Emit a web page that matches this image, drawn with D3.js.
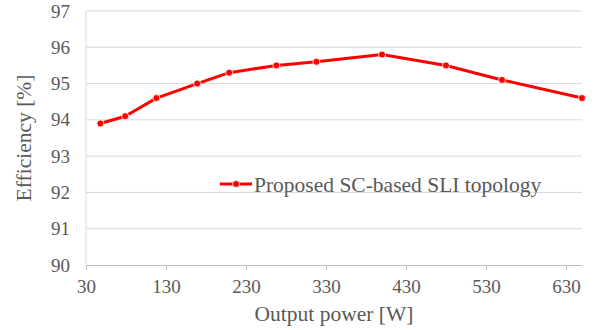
<!DOCTYPE html>
<html>
<head>
<meta charset="utf-8">
<script src="https://cdn.jsdelivr.net/npm/d3@7"></script>
<style>
  body { margin: 0; background: #fff; }
  svg { display: block; }
</style>
</head>
<body>
<div id="chart"></div>
<script>
// values
const power = [48, 79, 118, 169, 209, 268, 318, 400, 480, 550, 650]
const efficiency = [93.9, 94.1, 94.6, 95.0, 95.3, 95.5, 95.6, 95.8, 95.5, 95.1, 94.6]
const xTicks = [30, 130, 230, 330, 430, 530, 630]
const yTicks = [90, 91, 92, 93, 94, 95, 96, 97]
const seriesName = "Proposed SC-based SLI topology"

const width = 595, height = 330
const margin = {top: 11, right: 13, bottom: 65, left: 86}
const font = "Liberation Serif, Times New Roman, serif"

const svg = d3.select("#chart").append("svg")
  .attr("width", width)
  .attr("height", height)
  .attr("font-family", font)

const x = d3.scaleLinear().domain([30, 650]).range([margin.left, width - margin.right])
const y = d3.scaleLinear().domain([90, 97]).range([height - margin.bottom, margin.top])

// gridlines
svg.append("g")
  .selectAll("line")
  .data(yTicks.slice(1))
  .join("line")
  .attr("x1", x(30)).attr("x2", x(650))
  .attr("y1", d => y(d)).attr("y2", d => y(d))
  .attr("stroke", "#d9d9d9")
  .attr("stroke-width", 1)

// left axis line
svg.append("line")
  .attr("x1", x(30)).attr("x2", x(30))
  .attr("y1", y(90)).attr("y2", y(97))
  .attr("stroke", "#d9d9d9")

// bottom axis
const xAxis = svg.append("g")
  .attr("transform", `translate(0,${y(90)})`)
  .call(d3.axisBottom(x).tickValues(xTicks).tickSize(5).tickPadding(10).tickSizeOuter(0))
  .attr("font-family", font)
  .attr("font-size", 19)
xAxis.select(".domain").attr("stroke", "#bfbfbf")
xAxis.selectAll(".tick line").attr("stroke", "#bfbfbf")
xAxis.selectAll("text").attr("fill", "#595959")

// left tick labels
const yAxis = svg.append("g")
  .attr("transform", `translate(${x(30)},0)`)
  .call(d3.axisLeft(y).tickValues(yTicks).tickFormat(d3.format("d")).tickSize(0).tickPadding(16))
  .attr("font-family", font)
  .attr("font-size", 19)
yAxis.select(".domain").remove()
yAxis.selectAll("text").attr("fill", "#595959")

// axis titles
svg.append("text")
  .attr("x", (x(30) + x(650)) / 2)
  .attr("y", 321)
  .attr("text-anchor", "middle")
  .attr("fill", "#595959")
  .attr("font-size", 21.5)
  .text("Output power [W]")

svg.append("text")
  .attr("transform", `translate(31,${(y(90) + y(97)) / 2}) rotate(-90)`)
  .attr("text-anchor", "middle")
  .attr("fill", "#595959")
  .attr("font-size", 21.5)
  .text("Efficiency [%]")

// series
const pts = power.map((p, i) => [p, efficiency[i]])
svg.append("path")
  .datum(pts)
  .attr("fill", "none")
  .attr("stroke", "#ff0000")
  .attr("stroke-width", 3)
  .attr("stroke-linejoin", "round")
  .attr("d", d3.line().x(d => x(d[0])).y(d => y(d[1])))

svg.append("g")
  .selectAll("circle")
  .data(pts)
  .join("circle")
  .attr("cx", d => x(d[0]))
  .attr("cy", d => y(d[1]))
  .attr("r", 3.5)
  .attr("fill", "#ff0000")
  .attr("stroke", "#fff")
  .attr("stroke-width", 0.8)

// legend
const lg = svg.append("g").attr("transform", "translate(220,184)")
lg.append("line")
  .attr("x1", 0).attr("x2", 32)
  .attr("stroke", "#ff0000").attr("stroke-width", 3)
lg.append("circle")
  .attr("cx", 16).attr("r", 3.5)
  .attr("fill", "#ff0000").attr("stroke", "#fff").attr("stroke-width", 0.8)
lg.append("text")
  .attr("x", 34)
  .attr("dy", "0.35em")
  .attr("fill", "#595959")
  .attr("font-size", 21.5)
  .text(seriesName)
</script>
</body>
</html>
